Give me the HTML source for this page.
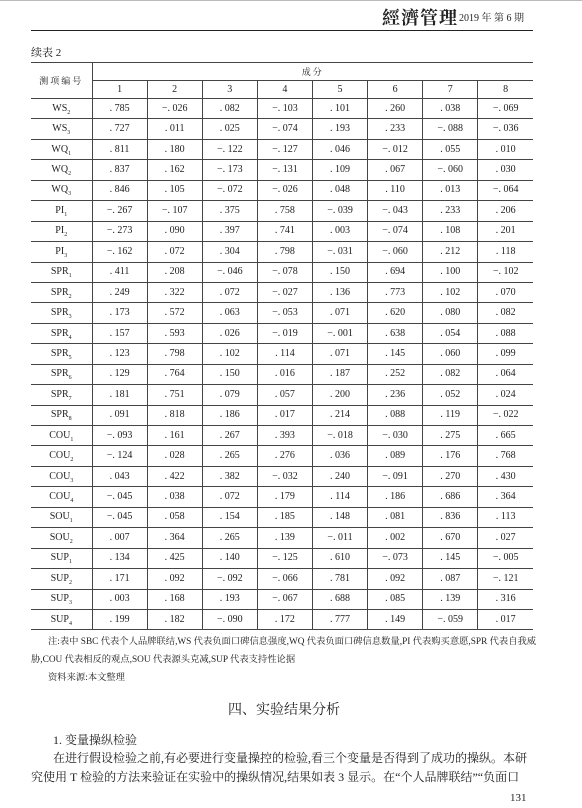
<!DOCTYPE html>
<html><head><meta charset="utf-8">
<style>
body{margin:0;width:582px;height:808px;background:#fff;position:relative;overflow:hidden;font-family:"Liberation Serif","Noto Serif CJK SC",serif;color:#222}
.a{position:absolute;white-space:nowrap}
table{position:absolute;left:31px;top:62px;width:502px;table-layout:fixed;border-collapse:collapse;font-size:10px;border-top:1.5px solid #222;border-bottom:1.5px solid #222}
td{border:1px solid #444;text-align:center;padding:0;line-height:10px;overflow:hidden}
tr{height:20.45px}
tr td:first-child{border-left:none}
tr td:last-child{border-right:none}
sub{font-size:6px;line-height:0}
</style></head><body>
<div class="a" style="left:0;top:0;width:582px;height:1px;background:#bbb"></div>
<div class="a" style="left:382px;top:4px;font-size:18px;font-weight:bold;font-family:'Noto Serif CJK SC',serif;letter-spacing:1px">經濟管理</div>
<div class="a" style="left:459px;top:9px;font-size:10px">2019 年 第 6 期</div>
<div class="a" style="left:31px;top:30px;width:502px;height:1px;background:#222"></div>
<div class="a" style="left:31px;top:44px;font-size:11px">续表 2</div>
<table id="t">
<colgroup><col style="width:61px"><col span="8" style="width:55.1px"></colgroup>
<tr style="height:18px"><td rowspan="2" style="font-size:9px;letter-spacing:2px">测项编号</td><td colspan="8" style="font-size:9px;letter-spacing:2px">成分</td></tr>
<tr id="hr" style="height:18px"></tr>
</table>
<div class="a" style="left:48px;top:633px;font-size:9.3px">注:表中 SBC 代表个人品牌联结,WS 代表负面口碑信息强度,WQ 代表负面口碑信息数量,PI 代表购买意愿,SPR 代表自我威</div>
<div class="a" style="left:31px;top:651px;font-size:9.3px">胁,COU 代表相反的观点,SOU 代表源头克减,SUP 代表支持性论据</div>
<div class="a" style="left:48px;top:669px;font-size:9.3px">资料来源:本文整理</div>
<div class="a" style="left:228px;top:699px;font-size:14px">四、实验结果分析</div>
<div class="a" style="left:53px;top:731px;font-size:12px">1. 变量操纵检验</div>
<div class="a" style="left:53px;top:749px;font-size:12px">在进行假设检验之前,有必要进行变量操控的检验,看三个变量是否得到了成功的操纵。本研</div>
<div class="a" style="left:31px;top:768px;font-size:12px">究使用 T 检验的方法来验证在实验中的操纵情况,结果如表 3 显示。在“个人品牌联结”“负面口</div>
<div class="a" style="left:510px;top:792px;font-size:11px">131</div>
<script>
const components=["1","2","3","4","5","6","7","8"];
const items=[["WS","2"],["WS","3"],["WQ","1"],["WQ","2"],["WQ","3"],["PI","1"],["PI","2"],["PI","3"],["SPR","1"],["SPR","2"],["SPR","3"],["SPR","4"],["SPR","5"],["SPR","6"],["SPR","7"],["SPR","8"],["COU","1"],["COU","2"],["COU","3"],["COU","4"],["SOU","1"],["SOU","2"],["SUP","1"],["SUP","2"],["SUP","3"],["SUP","4"]];
const values=[
[".785","-.026",".082","-.103",".101",".260",".038","-.069"],
[".727",".011",".025","-.074",".193",".233","-.088","-.036"],
[".811",".180","-.122","-.127",".046","-.012",".055",".010"],
[".837",".162","-.173","-.131",".109",".067","-.060",".030"],
[".846",".105","-.072","-.026",".048",".110",".013","-.064"],
["-.267","-.107",".375",".758","-.039","-.043",".233",".206"],
["-.273",".090",".397",".741",".003","-.074",".108",".201"],
["-.162",".072",".304",".798","-.031","-.060",".212",".118"],
[".411",".208","-.046","-.078",".150",".694",".100","-.102"],
[".249",".322",".072","-.027",".136",".773",".102",".070"],
[".173",".572",".063","-.053",".071",".620",".080",".082"],
[".157",".593",".026","-.019","-.001",".638",".054",".088"],
[".123",".798",".102",".114",".071",".145",".060",".099"],
[".129",".764",".150",".016",".187",".252",".082",".064"],
[".181",".751",".079",".057",".200",".236",".052",".024"],
[".091",".818",".186",".017",".214",".088",".119","-.022"],
["-.093",".161",".267",".393","-.018","-.030",".275",".665"],
["-.124",".028",".265",".276",".036",".089",".176",".768"],
[".043",".422",".382","-.032",".240","-.091",".270",".430"],
["-.045",".038",".072",".179",".114",".186",".686",".364"],
["-.045",".058",".154",".185",".148",".081",".836",".113"],
[".007",".364",".265",".139","-.011",".002",".670",".027"],
[".134",".425",".140","-.125",".610","-.073",".145","-.005"],
[".171",".092","-.092","-.066",".781",".092",".087","-.121"],
[".003",".168",".193","-.067",".688",".085",".139",".316"],
[".199",".182","-.090",".172",".777",".149","-.059",".017"]];
const hr=document.getElementById('hr'),t=document.getElementById('t');
components.forEach(c=>{const d=document.createElement('td');


d.textContent=c;hr.appendChild(d);});
items.forEach((it,i)=>{const r=document.createElement('tr');


const h=document.createElement('td');h.innerHTML=it[0]+'<sub>'+it[1]+'</sub>';


r.appendChild(h);
values[i].forEach(v=>{const d=document.createElement('td');


d.textContent=v.replace('-','−').replace('.','. ');r.appendChild(d);});
t.appendChild(r);});
</script>
</body></html>
